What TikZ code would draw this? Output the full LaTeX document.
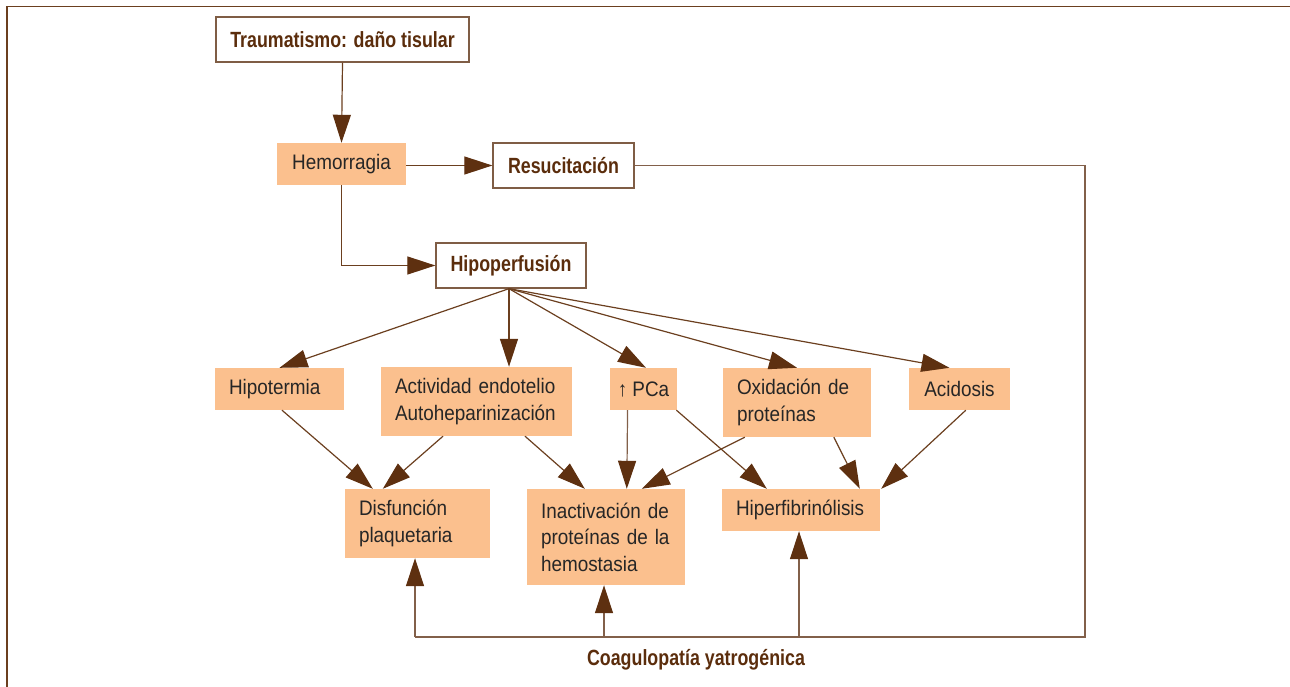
\documentclass[tikz,border=0pt]{standalone}
\usepackage{fontspec}
\setmainfont{Liberation Sans}[FakeStretch=0.9]
\newfontfamily\bcond{Liberation Sans}[FakeStretch=0.81]
\usetikzlibrary{arrows.meta}
\definecolor{boxfill}{HTML}{FBC08E}
\definecolor{txtdark}{HTML}{262626}
\definecolor{brownbold}{HTML}{5B2D0C}
\definecolor{tipbrown}{HTML}{5E3010}
\definecolor{linebrown}{HTML}{6B3F1F}
\definecolor{edgebrown}{HTML}{7F5D45}
\definecolor{loopbrown}{HTML}{82604A}
\tikzset{
  fillbox/.style={fill=boxfill, draw=none, inner xsep=14pt, inner ysep=2pt,
    font=\fontsize{21}{26.5}\selectfont, text=txtdark, align=left},
  whitebox/.style={fill=white, draw=edgebrown, line width=1.3pt, inner sep=2pt,
    font=\bcond\bfseries\fontsize{22}{26}\selectfont, text=brownbold, align=center},
  arr/.style={draw=linebrown, line width=1.2pt,
    -{Triangle[length=28pt,width=18pt,fill=tipbrown,color=tipbrown]}},
  looparr/.style={arr, draw=loopbrown},
  plain/.style={draw=loopbrown, line width=1.3pt},
}
\begin{document}
\begin{tikzpicture}[x=1pt,y=-1pt]
\useasboundingbox (0,0) rectangle (1290,687);
% frame lines
\draw[draw=linebrown, line width=1.6pt] (7,687) -- (7,6.5) -- (1290,6.5);

% top chain
\node[whitebox, minimum width=253pt, minimum height=45pt] (trauma) at (342.5,39.5) {Traumatismo: daño tisular};
\node[fillbox, align=center, minimum width=129pt, minimum height=42pt] (hem) at (341.5,164) {Hemorragia};
\node[whitebox, minimum width=141pt, minimum height=45pt] (resu) at (563.5,165.5) {Resucitación};
\node[whitebox, minimum width=150pt, minimum height=45pt] (hipop) at (511,265.5) {Hipoperfusión};

% middle row
\node[fillbox, text width=101pt, minimum height=42pt] (hipot) at (279.5,389) {Hipotermia};
\node[fillbox, text width=163pt, minimum height=69pt] (activ) at (476.5,401.5) {Actividad endotelio\\Autoheparinización};
\node[fillbox, inner xsep=8pt, align=center, minimum width=67pt, minimum height=42pt] (pca) at (643.5,389) {↑ PCa};
\node[fillbox, text width=120pt, minimum height=69pt] (oxid) at (797,402.5) {Oxidación de\\proteínas};
\node[fillbox, align=center, minimum width=101pt, minimum height=42pt] (acid) at (959.5,389) {Acidosis};

% bottom row
\node[fillbox, text width=117pt, minimum height=69pt] (disf) at (417.5,523.5) {Disfunción\\plaquetaria};
\node[fillbox, text width=130pt, minimum height=96pt] (inact) at (606,537) {Inactivación de\\proteínas de la\\hemostasia};
\node[fillbox, text width=130pt, minimum height=42pt] (hiperf) at (801,510) {Hiperfibrinólisis};

\node[font=\bcond\bfseries\fontsize{22}{26}\selectfont, text=brownbold] (coag) at (696,660) {Coagulopatía yatrogénica};

% collecting line
\coordinate (busL) at (415,637);
\coordinate (busR) at (1085,637);

% top connectors
\draw[arr] (trauma.south) -- (hem.north);
\draw[arr] (hem.east |- resu.west) -- (resu.west);
\draw[arr] (hem.south) |- (hipop.west);

% fan out of Hipoperfusión
\coordinate (apex) at ([xshift=-2pt]hipop.south);
\draw[arr] (apex) -- (hipot.north);
\draw[arr] (apex) -- (apex |- activ.north);
\draw[arr] (apex) -- ([xshift=2.5pt]pca.north);
\draw[arr] (apex) -- (oxid.north);
\draw[arr] (apex) -- ([xshift=-10pt]acid.north);

% middle to bottom
\draw[arr] ([xshift=2.5pt]hipot.south) -- ([xshift=28pt]disf.north west);
\draw[arr] ([xshift=-33.5pt]activ.south) -- ([xshift=38pt]disf.north west);
\draw[arr] ([xshift=48.5pt]activ.south) -- ([xshift=58pt]inact.north west);
\draw[looparr] ([xshift=18pt]pca.south west) -- ([xshift=100pt]inact.north west);
\draw[arr] ([xshift=22pt]oxid.south west) -- ([xshift=115pt]inact.north west);
\draw[arr] ([xshift=-1pt]pca.south east) -- ([xshift=45pt]hiperf.north west);
\draw[arr] ([xshift=111pt]oxid.south west) -- ([xshift=138pt]hiperf.north west);
\draw[arr] ([xshift=57pt]acid.south west) -- ([xshift=1pt]hiperf.north east);

% iatrogenic loop
\draw[plain] (resu.east) -| (busR) -- (busL);
\draw[looparr] (busL) -- (busL |- disf.south);
\draw[looparr] ([xshift=-2pt]inact.south |- busL) -- ([xshift=-2pt]inact.south);
\draw[looparr] ([xshift=-2pt]hiperf.south |- busL) -- ([xshift=-2pt]hiperf.south);
\end{tikzpicture}
\end{document}
